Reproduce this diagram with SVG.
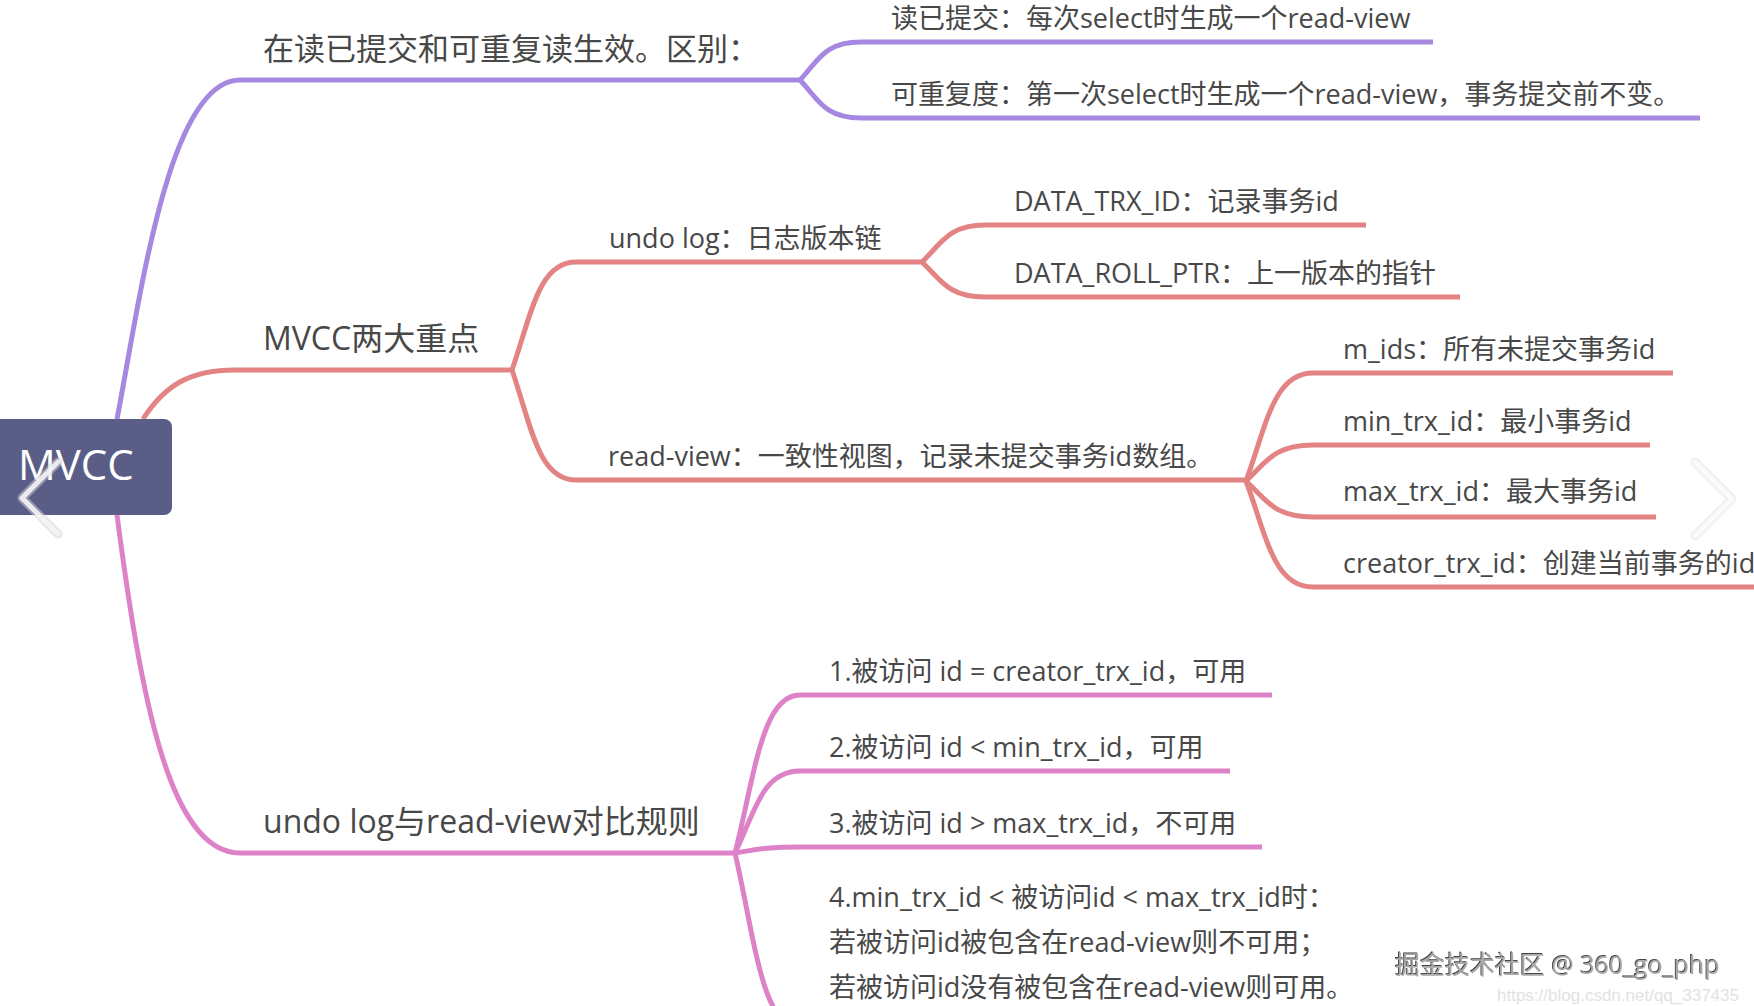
<svg xmlns="http://www.w3.org/2000/svg" width="1754" height="1006" viewBox="0 0 1754 1006">
<defs>
<style>
.t{font-family:"Open Sans","Noto Sans CJK SC",sans-serif;fill:#484848}
.l1{font-size:32px}
.l2{font-size:27px}
.c{fill:none;stroke-width:5;stroke-linecap:butt}
.pu{stroke:#a688e0}
.rd{stroke:#e48383}
.pk{stroke:#dd82c8}
</style>
<filter id="wm" x="-5%" y="-20%" width="110%" height="140%">
<feDropShadow dx="-1" dy="-1" stdDeviation="0.4" flood-color="#333" flood-opacity="0.9"/>
</filter>
</defs>
<rect width="1754" height="1006" fill="#ffffff"/>
<g id="connectors">
<path class="c pu" d="M117,419 C140,300 168,80 240,80 L800,80"/>
<path class="c pu" d="M800,80 C818,61 824,42 861,42 L1433,42"/>
<path class="c pu" d="M800,80 C818,99 824,118 861,118 L1700,118"/>
<path class="c rd" d="M143,419 C165,385 190,370 235,370 L512,370"/>
<path class="c rd" d="M512,370 C531,316 538,262 576,262 L922,262"/>
<path class="c rd" d="M512,370 C531,425 538,480 576,480 L1246,480"/>
<path class="c rd" d="M922,262 C941,244 948,225 985,225 L1366,225"/>
<path class="c rd" d="M922,262 C941,280 948,297 985,297 L1460,297"/>
<path class="c rd" d="M1246,481 C1266,427 1273,373 1313,373 L1673,373"/>
<path class="c rd" d="M1246,481 C1266,463 1273,445 1313,445 L1650,445"/>
<path class="c rd" d="M1246,481 C1266,499 1273,517 1313,517 L1656,517"/>
<path class="c rd" d="M1246,481 C1266,534 1273,587 1313,587 L1760,587"/>
<path class="c pk" d="M117,515 C140,690 168,853 240,853 L735,853"/>
<path class="c pk" d="M735,853 C755,774 762,695 800,695 L1272,695"/>
<path class="c pk" d="M735,853 C755,812 762,771 800,771 L1230,771"/>
<path class="c pk" d="M735,853 C755,850 762,847 800,847 L1262,847"/>
<path class="c pk" d="M735,853 C755,940 762,1028 800,1028 L1300,1028"/>
</g>
<g id="root">
<rect x="-10" y="419" width="182" height="96" rx="8" fill="#5a5e86"/>
<text x="18" y="480" style="font-family:'Open Sans',sans-serif;font-size:42px;fill:#ffffff">MVCC</text>
</g>
<g id="n-diff"><text class="t l1" x="263" y="60" style="font-size:31px">在读已提交和可重复读生效。区别：</text></g>
<g id="n-rc"><text class="t l2" x="891" y="28">读已提交：每次select时生成一个read-view</text></g>
<g id="n-rr"><text class="t l2" x="891" y="104">可重复度：第一次select时生成一个read-view，事务提交前不变。</text></g>
<g id="n-key"><text class="t l1" x="263" y="350">MVCC两大重点</text></g>
<g id="n-undo"><text class="t l2" x="609" y="248">undo log：日志版本链</text></g>
<g id="n-trx"><text class="t l2" x="1014" y="211">DATA_TRX_ID：记录事务id</text></g>
<g id="n-roll"><text class="t l2" x="1014" y="283">DATA_ROLL_PTR：上一版本的指针</text></g>
<g id="n-rv"><text class="t l2" x="608" y="466">read-view：一致性视图，记录未提交事务id数组。</text></g>
<g id="n-mids"><text class="t l2" x="1343" y="359">m_ids：所有未提交事务id</text></g>
<g id="n-min"><text class="t l2" x="1343" y="431">min_trx_id：最小事务id</text></g>
<g id="n-max"><text class="t l2" x="1343" y="501">max_trx_id：最大事务id</text></g>
<g id="n-creator"><text class="t l2" x="1343" y="573">creator_trx_id：创建当前事务的id</text></g>
<g id="n-rules"><text class="t l1" x="263" y="833">undo log与read-view对比规则</text></g>
<g id="n-r1"><text class="t l2" x="829" y="681">1.被访问 id = creator_trx_id，可用</text></g>
<g id="n-r2"><text class="t l2" x="829" y="757">2.被访问 id &lt; min_trx_id，可用</text></g>
<g id="n-r3"><text class="t l2" x="829" y="833">3.被访问 id &gt; max_trx_id，不可用</text></g>
<g id="n-r4">
<text class="t l2" x="829" y="907">4.min_trx_id &lt; 被访问id &lt; max_trx_id时：</text>
<text class="t l2" x="829" y="952">若被访问id被包含在read-view则不可用；</text>
<text class="t l2" x="829" y="997">若被访问id没有被包含在read-view则可用。</text>
</g>
<g id="overlay">
<polyline points="58,462 22,498 58,534" fill="none" stroke="#cfcfd6" stroke-opacity="0.5" stroke-width="9" stroke-linecap="round" stroke-linejoin="round"/>
<polyline points="58,462 22,498 58,534" fill="none" stroke="#f4f4f6" stroke-opacity="0.9" stroke-width="5" stroke-linecap="round" stroke-linejoin="round"/>
<polyline points="1695,462 1732,499 1695,536" fill="none" stroke="#e6e6e6" stroke-opacity="0.6" stroke-width="9" stroke-linecap="round" stroke-linejoin="round"/>
<polyline points="1695,462 1732,499 1695,536" fill="none" stroke="#fbfbfb" stroke-width="5" stroke-linecap="round" stroke-linejoin="round"/>
<text x="1395" y="974" filter="url(#wm)" style="font-family:'Open Sans','Noto Sans CJK SC',sans-serif;font-size:25px;fill:#a8a8a8">掘金技术社区 @ 360_go_php</text>
<text x="1497" y="1001" style="font-family:'Liberation Sans',sans-serif;font-size:17px;fill:#e2e2e2">https://blog.csdn.net/qq_337435</text>
</g>
</svg>
